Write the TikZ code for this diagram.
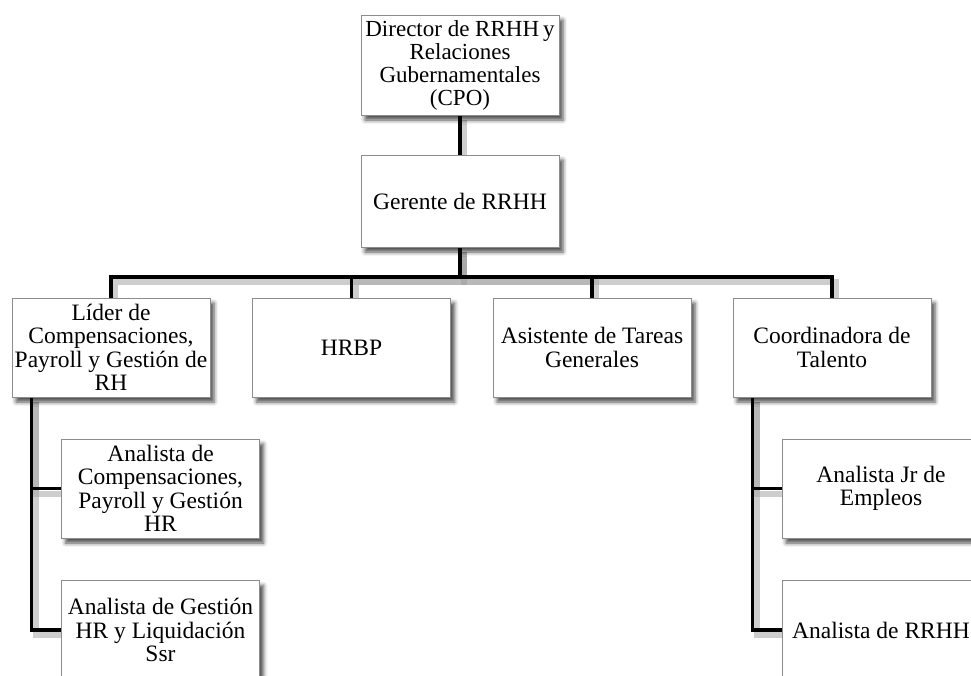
\documentclass[tikz,border=0pt]{standalone}
\usepackage{fontspec}
\setmainfont{Liberation Serif}
\usetikzlibrary{shadows.blur,backgrounds}
\begin{document}
\begin{tikzpicture}[x=1pt,y=-1pt,
  box/.style={draw=black!45, line width=0.8pt, fill=white,
    minimum width=198pt, minimum height=99pt, inner sep=1pt, align=center,
    font=\fontsize{23.5}{23.5}\selectfont,
    blur shadow={shadow xshift=4pt, shadow yshift=-5pt,
      shadow blur radius=4pt, shadow opacity=70}},
  conn/.style={line width=3.6pt, line join=miter},
  connshade/.style={line width=6pt, black!35, opacity=0.55, line join=miter}]
\useasboundingbox (0,0) rectangle (971,675);
\clip (0,0) rectangle (971,675);

% boxes
\node[box, minimum height=100pt, font=\fontsize{23}{23}\selectfont] (dir) at (460,65)
  {Director de RRHH\hspace{4pt}y\\Relaciones\\Gubernamentales\\(CPO)};
\node[box, minimum height=92pt] (ger) at (460,201) {Gerente de RRHH};
\node[box] (lider) at (111,347.5) {Líder de\\Compensaciones,\\Payroll y Gestión de\\RH};
\node[box] (hrbp)  at (351.5,347.5) {HRBP};
\node[box] (asist) at (592,347.5) {Asistente de Tareas\\Generales};
\node[box] (coord) at (832,347.5) {Coordinadora de\\Talento};
\node[box] (an1) at (160.5,488.5) {Analista de\\Compensaciones,\\Payroll y Gestión\\HR};
\node[box] (an2) at (160.5,630) {Analista de Gestión\\HR y Liquidación\\Ssr};
\node[box] (an3) at (881,488.5) {Analista Jr de\\Empleos};
\node[box] (an4) at (881,630) {Analista de RRHH};

\coordinate (bus) at (0,277);

% connectors, drawn beneath the boxes with a soft offset shade
\newcommand{\orgconnectors}[1]{%
  \draw[#1] (dir.south) -- (ger.north);
  \foreach \c in {lider,hrbp,asist,coord}
    \draw[#1] (ger.south) |- (\c.north |- bus) -- (\c.north);
  \draw[#1] ([xshift=20pt]lider.south west) |- (an1.west);
  \draw[#1] ([xshift=20pt]lider.south west) |- (an2.west);
  \draw[#1] ([xshift=20pt]coord.south west) |- (an3.west);
  \draw[#1] ([xshift=20pt]coord.south west) |- (an4.west);
}
\begin{pgfonlayer}{background}
  \begin{scope}[transform canvas={shift={(4pt,-5pt)}}]
    \orgconnectors{connshade}
  \end{scope}
  \orgconnectors{conn}
\end{pgfonlayer}
\end{tikzpicture}
\end{document}
